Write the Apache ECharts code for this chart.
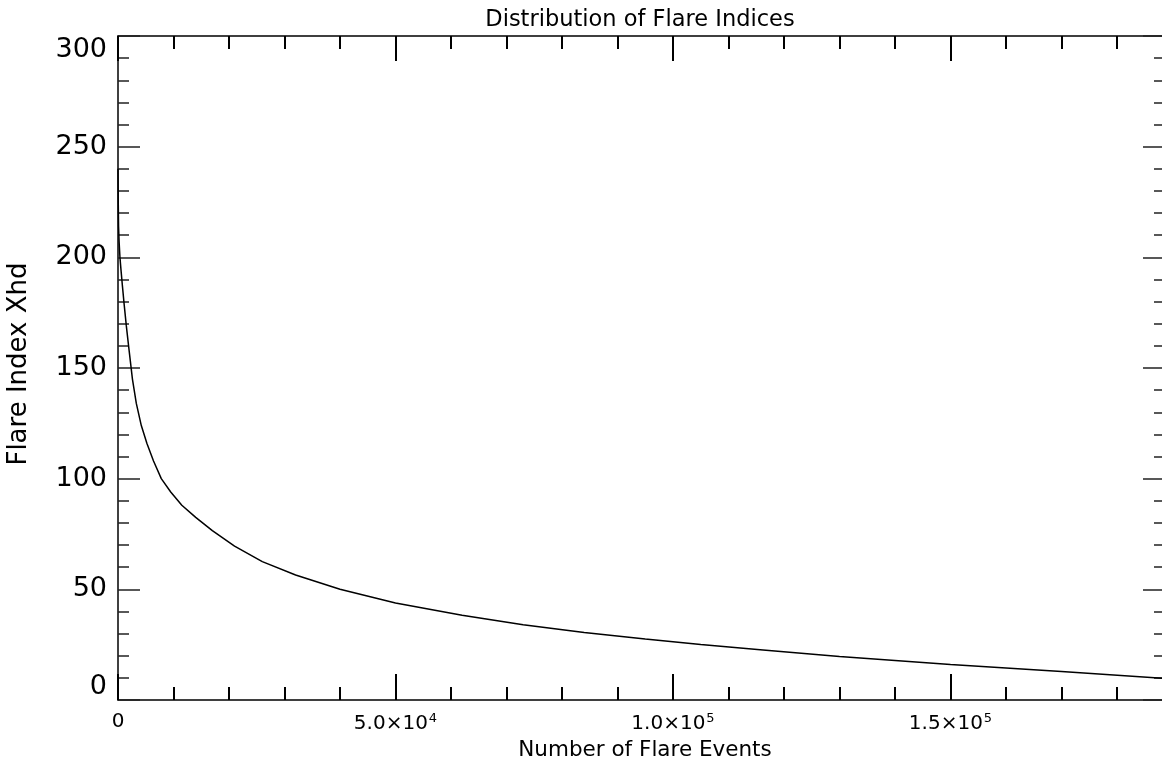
<!DOCTYPE html>
<html>
<head>
<meta charset="utf-8">
<script src="https://cdn.jsdelivr.net/npm/echarts@6/dist/echarts.min.js"></script>
<style>
html,body{margin:0;padding:0;background:#fff;}
#chart{width:1162px;height:759px;}
</style>
</head>
<body>
<div id="chart"></div>
<script>
// Data
const eventCounts = [0, 40, 100, 200, 350, 550, 800, 1100, 1500, 2000, 2600, 3300, 4200, 5200, 6400, 7800, 9500, 11500, 14000, 17000, 21000, 26000, 32000, 40000, 50000, 62000, 73000, 84000, 95000, 105000, 115700, 130000, 150000, 170000, 188300];
const flareIndex  = [240, 226, 214, 207, 200, 194, 187, 179, 169, 158, 145, 134, 124, 116, 108, 100, 94, 88, 82.5, 76.5, 69.5, 62.5, 56.5, 50, 43.8, 38.3, 34, 30.5, 27.6, 25.1, 22.7, 19.6, 16.0, 12.9, 9.8];
const yTicks = [0, 50, 100, 150, 200, 250, 300];
const xTicks = [0, 50000, 100000, 150000];

const FONT = 'DejaVu Sans';
const seriesData = eventCounts.map((x, i) => [x, flareIndex[i]]);

function sciLabel(v) {
  if (v === 0) return '{m|0}';
  const e = Math.floor(Math.log10(v) + 1e-9);
  const m = v / Math.pow(10, e);
  return '{m|' + m.toFixed(1) + '×10}{e|' + e + '}';
}

const chart = echarts.init(document.getElementById('chart'), null, {renderer: 'canvas'});
const axisLineStyle = {color: '#000', width: 1.5};

chart.setOption({
  backgroundColor: '#fff',
  animation: false,
  title: [{
    text: 'Distribution of Flare Indices',
    left: 635, top: 4, textAlign: 'center',
    textStyle: {fontFamily: FONT, fontSize: 22.5, fontWeight: 'normal', color: '#000'}
  }, {
    text: 'Number of Flare Events',
    left: 640, top: 734, textAlign: 'center',
    textStyle: {fontFamily: FONT, fontSize: 21.5, fontWeight: 'normal', color: '#000'}
  }],
  graphic: [{
    type: 'text',
    x: 6, y: 364, rotation: Math.PI / 2,
    style: {text: 'Flare Index Xhd', fontFamily: FONT, fontSize: 26, fill: '#000', align: 'center', verticalAlign: 'top'}
  }],
  grid: [
    {left: 118, top: 36, width: 1110, height: 664, containLabel: false, outerBoundsMode: 'none'},
    {left: 118, top: 36, width: 1045, height: 664, containLabel: false, outerBoundsMode: 'none'}
  ],
  xAxis: [{
    type: 'value', gridIndex: 0, position: 'bottom', min: 0, max: 200000, interval: 50000,
    axisLine: {show: true, onZero: false, lineStyle: axisLineStyle},
    axisTick: {show: true, inside: true, length: 26, lineStyle: {color: '#000', width: 2}},
    minorTick: {show: true, splitNumber: 5, length: 13, lineStyle: {color: '#000', width: 2}},
    splitLine: {show: false},
    axisLabel: {
      show: true, margin: 12, color: '#000',
      formatter: sciLabel,
      rich: {
        m: {fontFamily: FONT, fontSize: 20, color: '#000'},
        e: {fontFamily: FONT, fontSize: 13, color: '#000', padding: [0, 0, 11, 1]}
      }
    }
  }, {
    type: 'value', gridIndex: 0, position: 'top', min: 0, max: 200000, interval: 50000,
    axisLine: {show: true, onZero: false, lineStyle: axisLineStyle},
    axisTick: {show: true, inside: true, length: 25, lineStyle: {color: '#000', width: 2}},
    minorTick: {show: true, splitNumber: 5, length: 13, lineStyle: {color: '#000', width: 2}},
    splitLine: {show: false},
    axisLabel: {show: false}
  }, {
    type: 'value', gridIndex: 1, position: 'bottom', min: 0, max: 200000,
    axisLine: {show: false, onZero: false}, axisTick: {show: false}, axisLabel: {show: false}, splitLine: {show: false}
  }],
  yAxis: [{
    type: 'value', gridIndex: 0, position: 'left', min: 0, max: 300, interval: 50,
    axisLine: {show: true, onZero: false, lineStyle: axisLineStyle},
    axisTick: {show: true, inside: true, length: 22, lineStyle: {color: '#222', width: 1.5}},
    minorTick: {show: true, splitNumber: 5, length: 11, lineStyle: {color: '#222', width: 1.5}},
    splitLine: {show: false},
    axisLabel: {
      show: true, margin: 11, color: '#000', fontFamily: FONT, fontSize: 27,
      verticalAlignMinLabel: 'bottom', verticalAlignMaxLabel: 'top'
    }
  }, {
    type: 'value', gridIndex: 1, position: 'right', min: 0, max: 300, interval: 50,
    axisLine: {show: false, onZero: false},
    axisTick: {show: true, inside: true, length: 20, lineStyle: {color: '#222', width: 1.5}},
    minorTick: {show: true, splitNumber: 5, length: 9, lineStyle: {color: '#222', width: 1.5}},
    splitLine: {show: false},
    axisLabel: {show: false}
  }],
  series: [{
    type: 'line',
    xAxisIndex: 0, yAxisIndex: 0,
    data: seriesData,
    showSymbol: false,
    smooth: false,
    lineStyle: {color: '#000', width: 1.5},
    clip: true
  }]
});
</script>
</body>
</html>
